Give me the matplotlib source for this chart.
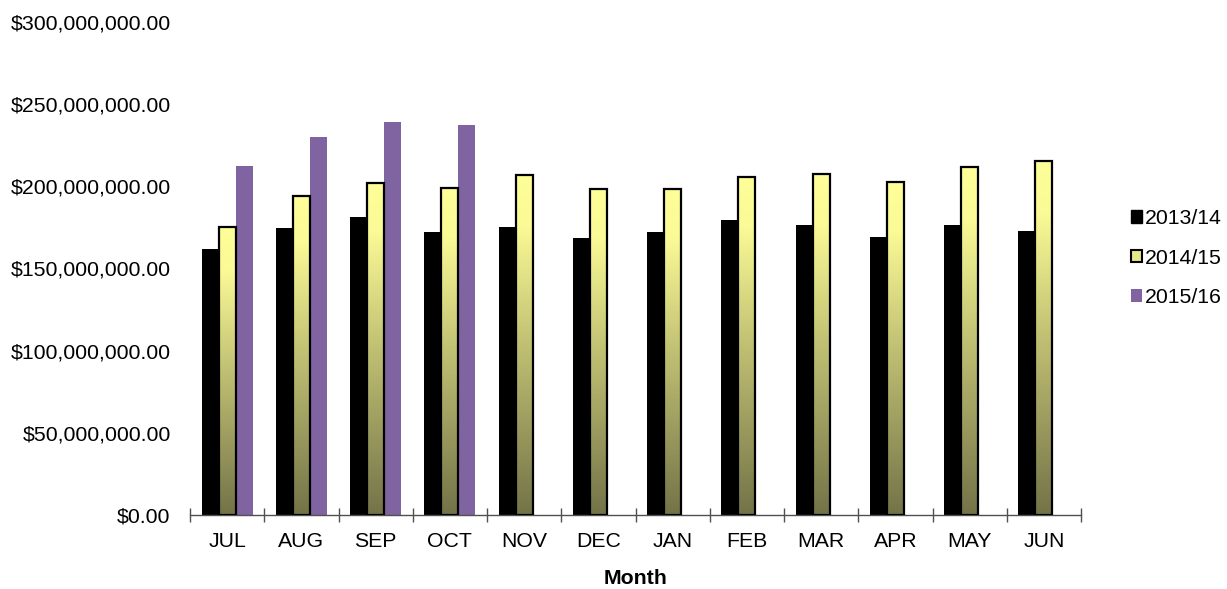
import numpy as np
import matplotlib.pyplot as plt
from matplotlib.colors import LinearSegmentedColormap
from matplotlib.patches import Patch
from matplotlib.ticker import FuncFormatter, FixedLocator

plt.rcParams["font.family"] = ["Liberation Sans", "DejaVu Sans"]

months = ["JUL", "AUG", "SEP", "OCT", "NOV", "DEC", "JAN", "FEB", "MAR", "APR", "MAY", "JUN"]
series_names = ["2013/14", "2014/15", "2015/16"]

# values in $ millions
fy1314 = [162.0, 174.5, 181.0, 172.4, 175.3, 168.2, 172.4, 179.1, 176.1, 168.8, 176.1, 173.0]
fy1415 = [175.0, 194.0, 202.0, 199.0, 207.0, 198.0, 198.0, 205.7, 207.5, 202.3, 211.4, 215.3]
fy1516 = [212.0, 230.0, 239.0, 237.0]

yticks = [0, 50, 100, 150, 200, 250, 300]

fig = plt.figure(figsize=(12.27, 5.89), dpi=100)
ax = fig.add_axes([190 / 1227, 1 - 515 / 589, 891 / 1227, (515 - 21.7) / 589])

x = np.arange(len(months))
w = 0.23

ax.bar(x - w, np.array(fy1314) * 1e6, width=w, color="black", zorder=2)

# yellow bars: gradient fill, olive at bottom to light yellow at top
cmap = LinearSegmentedColormap.from_list(
    "olive_yellow", [(0.0, "#737348"), (0.55, "#c8c878"), (0.85, "#fafa96"), (1.0, "#ffff99")]
)
grad = np.linspace(0, 1, 256).reshape(-1, 1)
yellow = ax.bar(x, np.array(fy1415) * 1e6, width=w, facecolor="none",
                edgecolor="black", linewidth=1.6, zorder=4)
for r in yellow:
    ax.imshow(grad, extent=[r.get_x(), r.get_x() + r.get_width(), 0, r.get_height()],
              origin="lower", aspect="auto", cmap=cmap, zorder=3)

x3 = np.arange(len(fy1516))
ax.bar(x3 + w, np.array(fy1516) * 1e6, width=w, color="#8064a2", zorder=2)

ax.set_xlim(-0.5, len(months) - 0.5)
ax.set_ylim(0, 300e6)

ax.set_yticks([v * 1e6 for v in yticks])
ax.yaxis.set_major_formatter(FuncFormatter(lambda v, p: "${:,.2f}".format(v)))
ax.tick_params(axis="y", length=0, pad=14, labelsize=15.3)

ax.set_xticks(x)
ax.set_xticklabels(months)
ax.tick_params(axis="x", which="major", length=0, pad=12, labelsize=15.3)
ax.xaxis.set_minor_locator(FixedLocator(np.arange(-0.5, len(months), 1.0)))
ax.tick_params(axis="x", which="minor", direction="inout", length=10, width=1, color="#505050")

for s in ["left", "right", "top"]:
    ax.spines[s].set_visible(False)
ax.spines["bottom"].set_color("#505050")
ax.spines["bottom"].set_linewidth(1)

ax.set_xlabel("Month", fontsize=15.3, fontweight="bold", labelpad=13)

handles = [
    Patch(facecolor="black", edgecolor="black"),
    Patch(facecolor="#e6e68a", edgecolor="black", linewidth=1.5),
    Patch(facecolor="#8064a2", edgecolor="none"),
]
fig.legend(handles, series_names, loc="center left", bbox_to_anchor=(1122 / 1227, 1 - 258 / 589),
           frameon=False, fontsize=15.3, handlelength=0.55, handleheight=0.55,
           handletextpad=0.15, labelspacing=0.95, borderaxespad=0)

fig.savefig("out.png", dpi=100)
